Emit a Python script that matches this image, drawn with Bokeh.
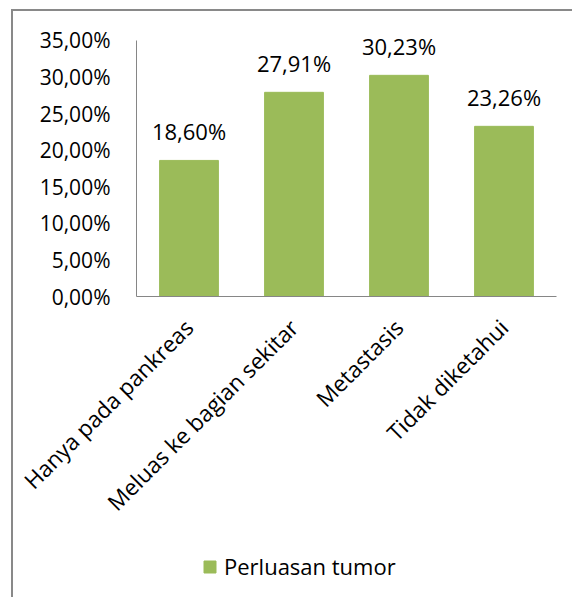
import math
from bokeh.plotting import figure
from bokeh.models import ColumnDataSource, LabelSet, Legend, LegendItem, CustomJSTickFormatter, FixedTicker
from bokeh.core.properties import value
from bokeh.layouts import column
from bokeh.embed import file_html
from bokeh.resources import INLINE

categories = ["Hanya pada pankreas", "Meluas ke bagian sekitar", "Metastasis", "Tidak diketahui"]
values = [18.60, 27.91, 30.23, 23.26]
value_labels = ["18,60%", "27,91%", "30,23%", "23,26%"]
series_name = "Perluasan tumor"
y_ticks = [0, 5, 10, 15, 20, 25, 30, 35]

FONT = "Open Sans"
GREEN = "#9BBB59"

source = ColumnDataSource(dict(cat=categories, val=values, lab=value_labels))

p = figure(x_range=categories, y_range=(0, 38), width=559, height=535,
           output_backend="svg", toolbar_location=None,
           min_border_left=123, min_border_right=16, min_border_top=7, min_border_bottom=250)

r = p.vbar(x="cat", top="val", width=0.56, source=source, color=GREEN, line_color=GREEN)

labels = LabelSet(x="cat", y="val", text="lab", source=source, text_align="center",
                  text_baseline="alphabetic", y_offset=20, text_font=value(FONT),
                  text_font_size=value("22px"), text_color="#000000")
p.add_layout(labels)

p.yaxis.ticker = FixedTicker(ticks=y_ticks)
p.yaxis.bounds = (0, 35)
p.yaxis.formatter = CustomJSTickFormatter(code="return tick.toFixed(2).replace('.', ',') + '%';")
p.yaxis.major_label_text_font = FONT
p.yaxis.major_label_text_font_size = "21px"
p.yaxis.major_label_text_color = "#000000"
p.yaxis.major_tick_line_color = None
p.yaxis.major_tick_out = 0
p.yaxis.major_tick_in = 0
p.yaxis.minor_tick_line_color = None
p.yaxis.minor_tick_out = 0
p.yaxis.axis_line_color = "#868686"
p.yaxis.major_label_standoff = 26

p.xaxis.major_label_orientation = math.pi / 4
p.xaxis.major_label_text_font = FONT
p.xaxis.major_label_text_font_size = "22.5px"
p.xaxis.major_label_text_color = "#000000"
p.xaxis.major_tick_line_color = None
p.xaxis.major_tick_out = 0
p.xaxis.major_tick_in = 0
p.xaxis.axis_line_color = "#868686"
p.xaxis.major_label_standoff = 27

p.xgrid.grid_line_color = None
p.ygrid.grid_line_color = None
p.outline_line_color = None

# Legend in a small companion figure below the chart (its bars lie outside its view)
p2 = figure(width=559, height=51, x_range=categories, y_range=(100, 101),
            x_axis_type=None, y_axis_type=None,
            output_backend="svg", toolbar_location=None, min_border=0)
p2.xgrid.grid_line_color = None
p2.ygrid.grid_line_color = None
p2.outline_line_color = None
r2 = p2.vbar(x="cat", top="val", width=0.56, source=source, color=GREEN, line_color=GREEN)

legend = Legend(items=[LegendItem(label=series_name, renderers=[r2])],
                location=(66, 16), label_text_font=FONT, label_text_font_size="22px",
                label_text_color="#000000", glyph_width=15, glyph_height=15,
                padding=0, margin=0, border_line_color=None, background_fill_alpha=0,
                label_standoff=7, label_height=15)
p2.add_layout(legend, "center")

layout = column(p, p2, margin=(9, 0, 0, 11),
                styles={"border-top": "2px solid #898989", "border-left": "2px solid #898989"})

open("out.html", "w").write(file_html(layout, INLINE))
